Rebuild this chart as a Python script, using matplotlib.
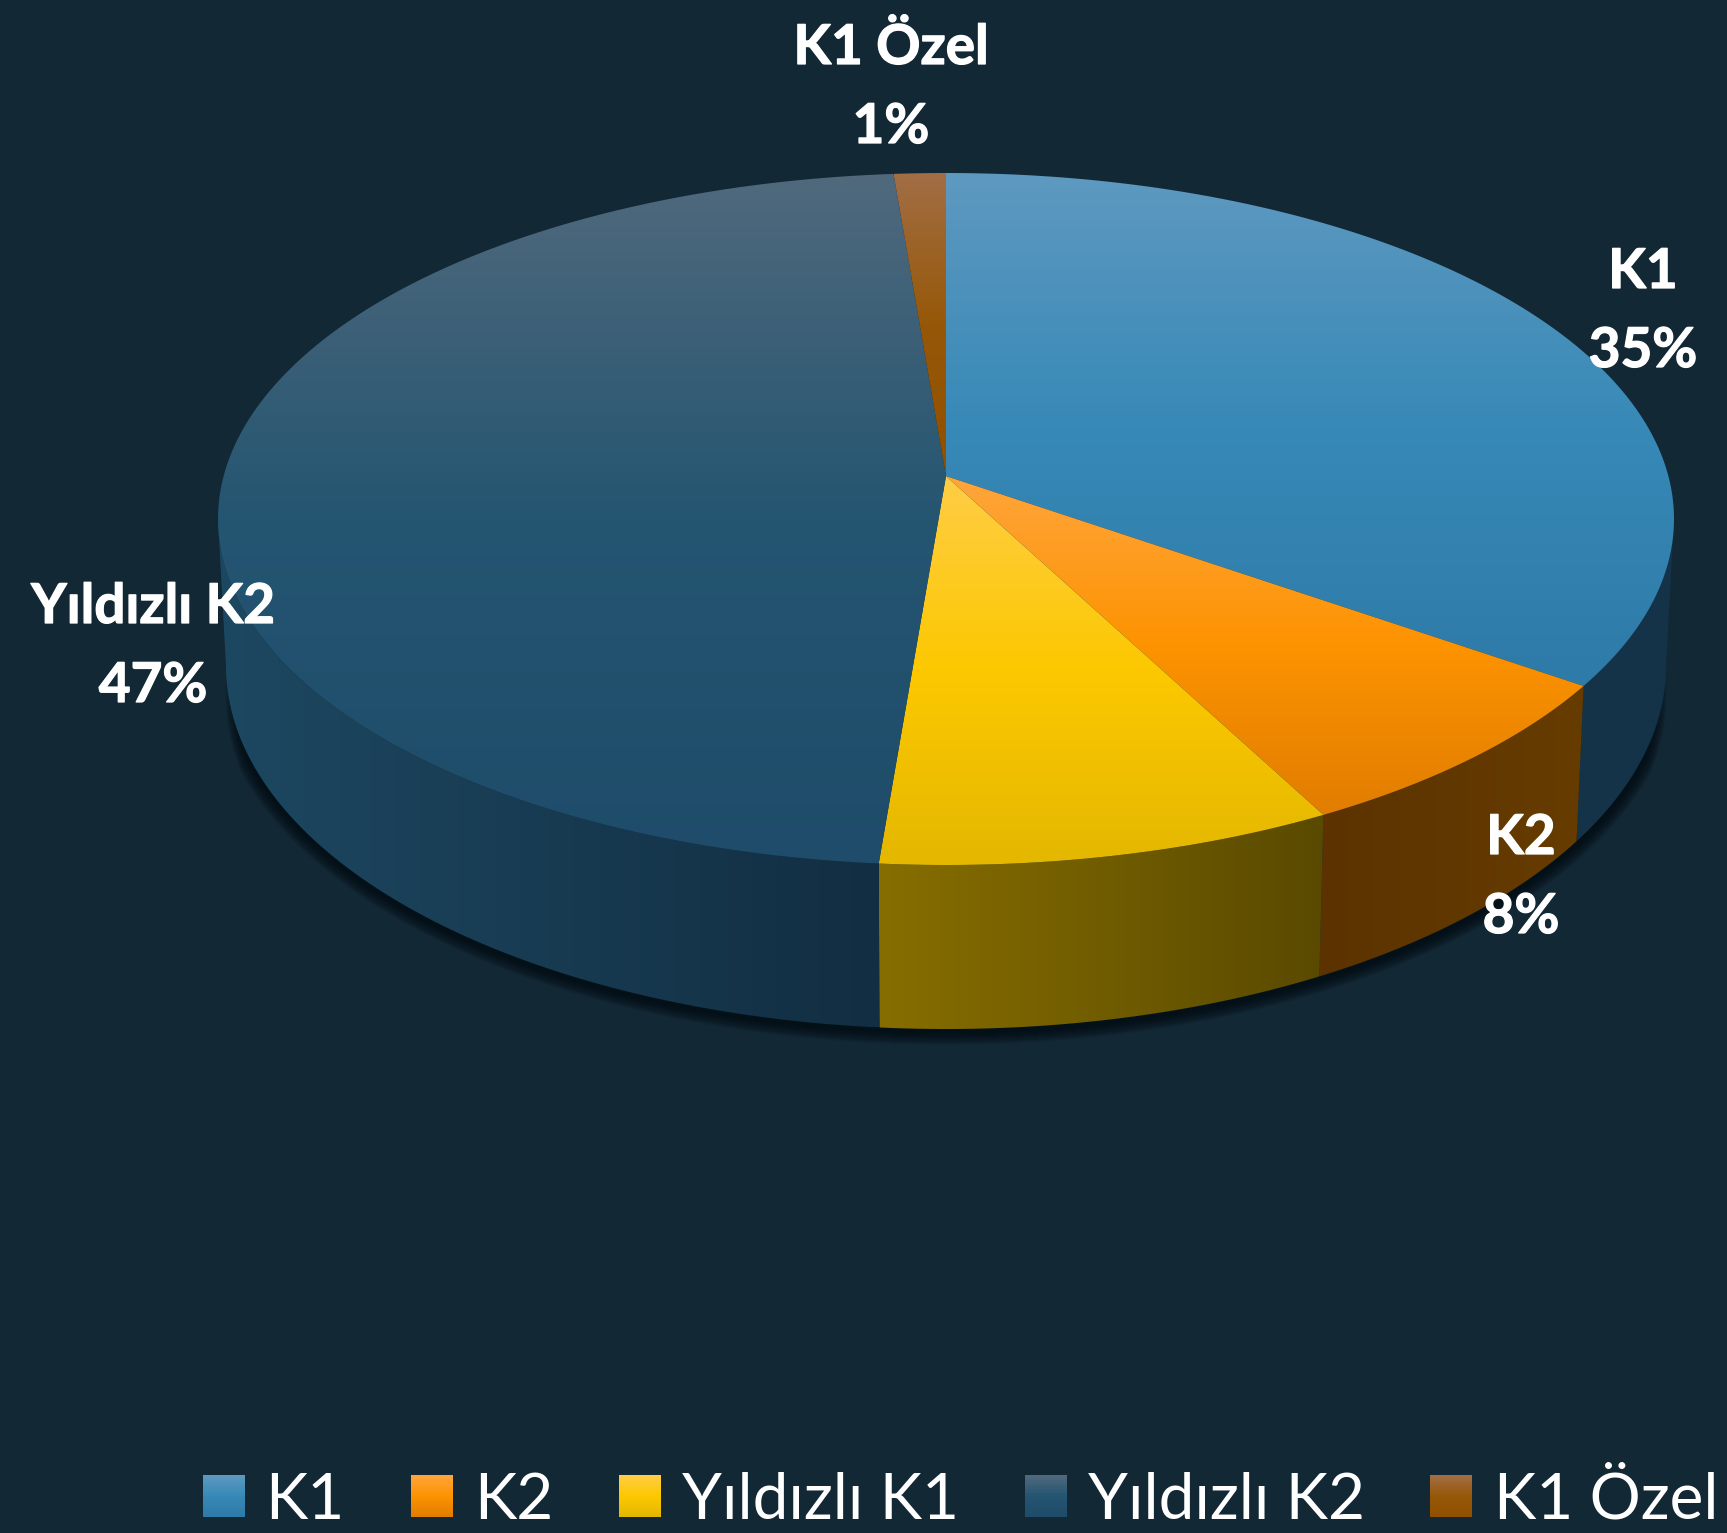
import numpy as np
import matplotlib
matplotlib.use("Agg")
import matplotlib.pyplot as plt
import matplotlib.patheffects as pe
from matplotlib.patches import Polygon, Rectangle
from matplotlib.legend_handler import HandlerBase

# ---- data (percent shares read from the wedge boundaries) ----
categories = ["K1", "K2", "Yıldızlı K1", "Yıldızlı K2", "K1 Özel"]
shares = [34.7, 7.6, 9.0, 47.4, 1.3]
show_label = [True, True, False, True, True]

# ---- styles ----
BG = "#132835"
top_stops = [
    [(94, 153, 192), (55, 137, 183), (46, 122, 168)],
    [(255, 165, 60), (253, 147, 0), (225, 125, 0)],
    [(255, 205, 70), (252, 200, 0), (228, 183, 0)],
    [(80, 105, 125), (36, 85, 113), (30, 76, 106)],
    [(162, 110, 70), (150, 88, 8), (145, 80, 0)],
]
wall_stops = [
    [(20, 52, 74), (20, 50, 72)],
    [(92, 51, 0), (102, 60, 0)],
    [(135, 110, 0), (90, 74, 0)],
    [(29, 72, 97), (18, 46, 66)],
    [(145, 80, 0), (145, 80, 0)],
]
label_xy = [(1643, 288), (1521, 854), None, (153, 623), (891, 64)]
LINE_STEP = 79

W, H = 1727, 1533
fig = plt.figure(figsize=(W / 100, H / 100), dpi=100, facecolor=BG)
ax = fig.add_axes([0, 0, 1, 1])
ax.set_facecolor(BG)
ax.axis("off")

# perspective projection of the unit disc onto the two rim ellipses
A = 0.124
TOP = (946, 519, 728, 346)
BOT = (946, 666, 720, 363)
SIDE = np.arccos(-A)  # angle at which the projected rim reaches its widest point


def project(theta, rim, r=1.0):
    x, y = r * np.sin(theta), r * np.cos(theta)
    d = 1 + A * y
    xp, yp = x * np.sqrt(1 - A * A) / d, (y + A) / d
    return rim[0] + rim[2] * xp, rim[1] - rim[3] * yp


def ramp(stops, n=256):
    stops = np.asarray(stops, float) / 255
    pos = np.linspace(0, 1, len(stops))
    t = np.linspace(0, 1, n)
    return np.stack([np.interp(t, pos, stops[:, i]) for i in range(3)], axis=-1)


def fill(xs, ys, stops, vertical=True, zorder=2):
    pts = np.column_stack([xs, ys])
    poly = Polygon(pts, closed=True, transform=ax.transData, fc="none", ec="none")
    ax.add_patch(poly)
    g = ramp(stops)
    img = g[:, None, :] if vertical else g[None, :, :]
    im = ax.imshow(img, extent=(xs.min(), xs.max(), ys.max(), ys.min()), aspect="auto",
                   interpolation="bilinear", zorder=zorder)
    im.set_clip_path(poly)


# wedge limits
edges = np.deg2rad(np.concatenate([[0], np.cumsum(shares)]) * 3.6)

# soft shadow under the lower rim: wider strokes cover a shorter arc, so its ends fade out
widths = np.arange(26, 1, -2.0)
for n, lw in enumerate(widths):
    inset = np.deg2rad(1.0 + 0.55 * lw)
    t = np.linspace(SIDE + inset, 2 * np.pi - SIDE - inset, 300)
    sx, sy = project(t, BOT)
    ax.plot(sx, sy + 3, color="#020a10", lw=lw * 0.72, alpha=0.09, solid_capstyle="round", zorder=1)

# side walls (visible front part only)
for i in range(len(shares)):
    lo, hi = max(edges[i], SIDE), min(edges[i + 1], 2 * np.pi - SIDE)
    if hi <= lo:
        continue
    t = np.linspace(lo, hi, 160)
    x0, y0 = project(t, TOP)
    x1, y1 = project(t, BOT)
    xs = np.concatenate([x0, x1[::-1]])
    ys = np.concatenate([y0, y1[::-1]])
    fill(xs, ys, wall_stops[i], vertical=False, zorder=2)

# top face
for i in range(len(shares)):
    t = np.linspace(edges[i], edges[i + 1], 200)
    x, y = project(t, TOP)
    ax0, ay0 = project(0.0, TOP, r=0.0)
    xs = np.concatenate([[ax0], x])
    ys = np.concatenate([[ay0], y])
    fill(xs, ys, top_stops[i], vertical=True, zorder=3)

# data labels
bold = [pe.withStroke(linewidth=0.9, foreground="white")]
for name, val, xy, on in zip(categories, shares, label_xy, show_label):
    if not on:
        continue
    for k, s in enumerate([name, f"{round(val)}%"]):
        ax.text(xy[0], xy[1] + k * LINE_STEP, s, color="white", family="Lato", weight="bold",
                fontsize=39.5, ha="center", va="baseline", zorder=5, path_effects=bold)


class GradientHandle(HandlerBase):
    def __init__(self, stops):
        super().__init__()
        self.stops = stops

    def create_artists(self, legend, orig, xd, yd, width, height, fontsize, trans):
        n = 30
        g = ramp(self.stops, n)
        side = 30.24
        y0 = (height - side) / 2 - yd + 0.1
        out = []
        for j in range(n):
            out.append(Rectangle((-xd, y0 + side * (n - 1 - j) / n), side, side / n + 0.2,
                                 fc=g[j], ec="none", transform=trans))
        return out


handles = [Rectangle((0, 0), 1, 1, label=c) for c in categories]
hmap = {h: GradientHandle(top_stops[i]) for i, h in enumerate(handles)}
leg = ax.legend(handles=handles, handler_map=hmap, ncol=5, frameon=False,
                loc="lower right", bbox_to_anchor=(0.9985, -0.002), borderaxespad=0, borderpad=0.1,
                prop={"family": "Lato", "size": 46}, labelcolor="white",
                handlelength=0.657, handletextpad=0.33, columnspacing=1.03)

ax.set_xlim(0, W)
ax.set_ylim(H, 0)
fig.savefig("out.png", dpi=100, facecolor=BG)
